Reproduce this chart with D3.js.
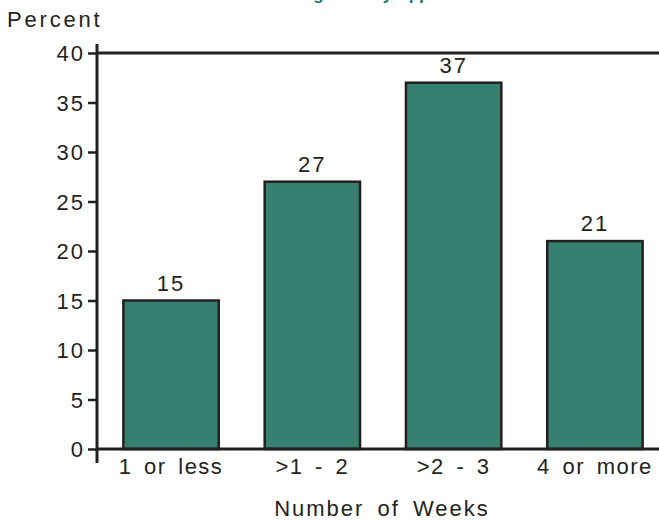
<!DOCTYPE html>
<html>
<head>
<meta charset="utf-8">
<script src="https://cdn.jsdelivr.net/npm/d3@7"></script>
<style>
  html, body { margin: 0; padding: 0; background: #fff; }
  svg { display: block; }
  text { font-family: "Liberation Sans", Arial, sans-serif; fill: #231f20; }
</style>
</head>
<body>
<svg id="chart" width="659" height="520"></svg>
<script>
// Share of cases by number of weeks
const categories = ["1 or less", ">1 - 2", ">2 - 3", "4 or more"];
const percents = [15, 27, 37, 21];
const yTicks = [0, 5, 10, 15, 20, 25, 30, 35, 40];

const chartTitle = "Healing Time by Approach";
const yTitle = "Percent";
const xTitle = "Number of Weeks";

const svg = d3.select("#chart");
const plot = { left: 97, right: 659, top: 53, bottom: 449 };

const x = d3.scaleBand()
  .domain(categories)
  .range([105, 661])
  .paddingInner(0.325)
  .paddingOuter(0.13);

const y = d3.scaleLinear()
  .domain([0, 40])
  .range([plot.bottom, plot.top]);

const ink = "#231f20";
const teal = "#36806f";

// Title (sits above the frame, largely outside the canvas)
svg.append("text")
  .attr("x", 369)
  .attr("y", -0.5)
  .attr("text-anchor", "middle")
  .style("font-size", "17px")
  .style("font-weight", "bold")
  .style("fill", "#127a64")
  .text(chartTitle);

// Y axis title
svg.append("text")
  .attr("x", 7)
  .attr("y", 27)
  .style("font-size", "22px")
  .style("letter-spacing", "2.8px")
  .text(yTitle);

// Bars
svg.append("g").selectAll("rect")
  .data(percents)
  .join("rect")
  .attr("x", (d, i) => x(categories[i]))
  .attr("y", d => y(d))
  .attr("width", x.bandwidth())
  .attr("height", d => y(0) - y(d))
  .attr("fill", teal)
  .attr("stroke", ink)
  .attr("stroke-width", 2.5);

// Value labels
svg.append("g").selectAll("text")
  .data(percents)
  .join("text")
  .attr("x", (d, i) => x(categories[i]) + x.bandwidth() / 2)
  .attr("y", d => y(d) - 10)
  .attr("text-anchor", "middle")
  .style("font-size", "22px")
  .style("letter-spacing", "2px")
  .text(d => d);

// Y axis
const yAxis = d3.axisLeft(y)
  .tickValues(yTicks)
  .tickSize(9)
  .tickPadding(3)
  .tickFormat(d3.format("d"));

const yg = svg.append("g")
  .attr("transform", `translate(${plot.left},0)`)
  .call(yAxis);
yg.select(".domain").remove();
yg.selectAll(".tick line").attr("stroke", ink).attr("stroke-width", 2.5);
yg.selectAll(".tick text")
  .style("font-size", "22px")
  .style("letter-spacing", "2px")
  .attr("fill", ink)
  .attr("dy", "0.36em");

// Axis frame: vertical spine, top rule, baseline
svg.append("line")
  .attr("x1", plot.left).attr("x2", plot.left)
  .attr("y1", plot.top - 9).attr("y2", plot.bottom + 14)
  .attr("stroke", ink).attr("stroke-width", 3);
svg.append("line")
  .attr("x1", plot.left).attr("x2", plot.right)
  .attr("y1", plot.top).attr("y2", plot.top)
  .attr("stroke", ink).attr("stroke-width", 3);
svg.append("line")
  .attr("x1", plot.left).attr("x2", plot.right)
  .attr("y1", plot.bottom).attr("y2", plot.bottom)
  .attr("stroke", ink).attr("stroke-width", 3);

// X category labels
const xAxis = d3.axisBottom(x).tickSize(0).tickPadding(0);
const xg = svg.append("g")
  .attr("transform", `translate(0,${plot.bottom})`)
  .call(xAxis);
xg.select(".domain").remove();
xg.selectAll(".tick text")
  .attr("y", 25)
  .attr("dy", 0)
  .style("font-size", "22px")
  .style("letter-spacing", "1.5px")
  .style("word-spacing", "4px")
  .attr("fill", ink);

// X axis title
svg.append("text")
  .attr("x", 382)
  .attr("y", 516)
  .attr("text-anchor", "middle")
  .style("font-size", "22px")
  .style("letter-spacing", "2px")
  .style("word-spacing", "5px")
  .text(xTitle);
</script>
</body>
</html>
